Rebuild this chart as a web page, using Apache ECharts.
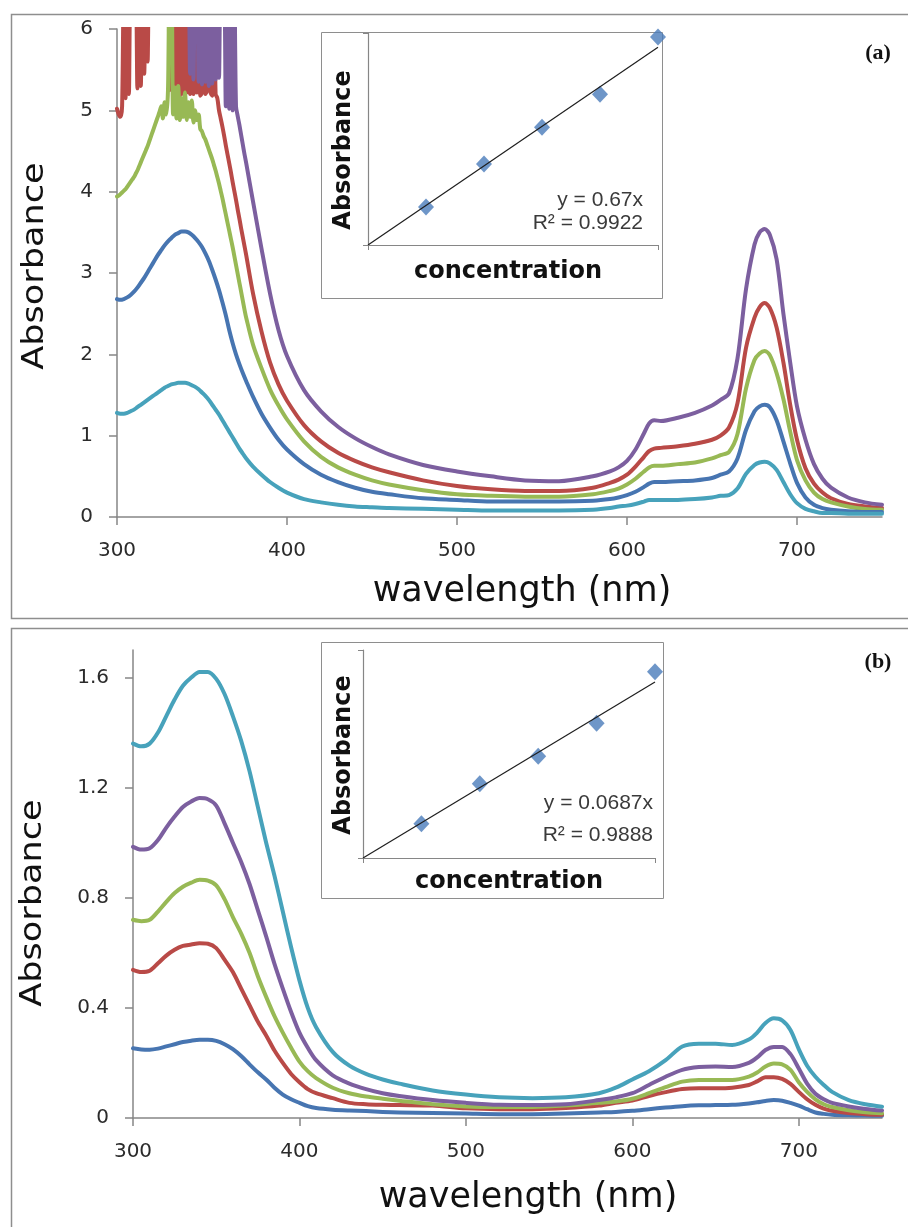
<!DOCTYPE html>
<html><head><meta charset="utf-8">
<script src="https://cdn.jsdelivr.net/npm/echarts@6/dist/echarts.min.js"></script>
<style>html,body{margin:0;padding:0;background:#fff}#c{width:908px;height:1227px}</style>
</head><body><div id="c"></div>
<script>
// ---------- Panel (a) ----------
// shared tail of the wavelength grid (380-750 nm)
const wlTailA = [380,385,390,395,400,410,420,430,440,450,460,480,500,520,540,560,580,590,595,600,605,610,613,616,620,630,640,650,655,660,665,670,675,678,681,684,688,692,696,700,705,710,715,720,730,740,750];
// smooth curves: 2 nm steps from 300 to 376 nm
const wlA = [300,302,304,306,308,310,312,314,316,318,320,322,324,326,328,330,332,334,336,338,340,342,344,346,348,350,352,354,356,358,360,362,364,366,368,370,372,374,376].concat(wlTailA);
// noisy (saturated) curves: 1 nm steps from 300 to 376 nm
const wlAn = [300,301,302,303,304,305,306,307,308,309,310,311,312,313,314,315,316,317,318,319,320,321,322,323,324,325,326,327,328,329,330,331,332,333,334,335,336,337,338,339,340,341,342,343,344,345,346,347,348,349,350,351,352,353,354,355,356,357,358,359,360,361,362,363,364,365,366,367,368,369,370,371,372,373,374,375,376].concat(wlTailA);

const aRed = [5.02,4.95,4.92,5.05, 6.6,5.15,6.6,5.2, 6.6,6.6,6.6,6.6, 5.27,6.6,5.30,6.6,5.45,6.6,5.60,6.6,
  6.6,6.6,6.6,6.6,6.6,6.6,6.6,6.6,6.6,6.6,6.6,
  5.25,6.6,5.20,6.6,5.22,6.6,5.18,6.6,5.20,6.6,5.22,6.6,5.20,
  6.6,5.20,6.6,5.22,6.6,5.18,5.22,6.6,5.20,5.25,6.6,5.22,5.18,6.6,5.20,5.15,
  5.00,4.90,4.80,4.69,4.57,4.46,4.35,4.24,4.12,4.01,3.90,3.78,3.67,3.55,3.44,3.33,3.22,
  2.75,2.28,1.90,1.63,1.43,1.13,0.93,0.79,0.69,0.61,0.55,0.45,0.38,0.34,0.32,0.32,0.36,0.42,0.46,0.52,0.62,0.74,0.81,0.84,0.85,0.87,0.90,0.95,1.00,1.10,1.40,2.08,2.45,2.58,2.63,2.57,2.33,1.90,1.38,0.95,0.60,0.41,0.30,0.23,0.16,0.13,0.11];
const aPurple = [6.6,6.6,6.6,6.6,6.6,6.6,6.6,6.6,6.6,6.6,6.6,6.6,6.6,6.6,6.6,6.6,6.6,6.6,6.6,6.6,6.6,6.6,6.6,6.6,6.6,6.6,6.6,6.6,6.6,6.6,6.6,6.6,6.6,6.6,6.6,6.6,6.6,6.6,6.6,6.6,6.6,6.6,6.6,
  5.45,6.6,5.38,6.6,6.6,5.35,6.6,5.32,6.6,5.35,6.6,5.30,6.6,5.33,6.6,5.38,6.6,5.40,
  6.6,6.6,6.6,
  5.05,6.6,5.02,6.6,5.00,6.6,5.05,
  4.93,4.82,4.70,4.58,4.46,4.35,
  3.88,3.30,2.75,2.30,1.98,1.56,1.30,1.11,0.97,0.86,0.77,0.64,0.56,0.50,0.45,0.44,0.50,0.56,0.61,0.69,0.83,1.03,1.15,1.19,1.18,1.22,1.28,1.37,1.44,1.52,1.95,2.80,3.35,3.50,3.54,3.47,3.17,2.50,1.90,1.36,0.95,0.65,0.47,0.36,0.24,0.18,0.15];
const aGreen = [3.94,3.95,3.97,3.99,4.01,4.03,4.06,4.09,4.12,4.15,4.18,4.22,4.26,4.31,4.36,4.41,4.46,4.51,4.56,4.62,4.68,4.74,4.80,4.86,4.92,4.98,5.05,
  4.90,5.10,4.95,5.25,6.6,6.6,4.95,5.28,4.90,5.30,4.88,5.15,4.92,5.22,4.88,5.10,4.92,5.12,4.85,5.0,4.88,4.95,4.77,
  4.74,4.68,4.64,4.58,4.52,4.46,4.40,4.33,4.26,4.18,4.10,4.01,3.92,3.82,3.72,3.62,3.52,3.42,3.32,3.21,3.10,2.99,2.88,2.77,2.66,2.55,2.45,
  2.12,1.83,1.57,1.37,1.20,0.93,0.74,0.61,0.52,0.45,0.40,0.33,0.28,0.26,0.25,0.25,0.28,0.32,0.35,0.40,0.47,0.56,0.61,0.63,0.63,0.65,0.67,0.72,0.76,0.80,1.02,1.58,1.93,2.01,2.04,1.99,1.77,1.45,1.05,0.70,0.45,0.30,0.22,0.18,0.13,0.10,0.09];
const aBlue = [2.68,2.67,2.68,2.70,2.73,2.77,2.82,2.88,2.94,3.01,3.08,3.15,3.22,3.28,3.34,3.39,3.43,3.47,3.49,3.51,3.51,3.50,3.47,3.43,3.38,3.32,3.24,3.15,3.04,2.92,2.79,2.64,2.48,2.30,2.14,2.00,1.88,1.77,1.67,
  1.48,1.27,1.10,0.95,0.83,0.65,0.52,0.43,0.36,0.31,0.28,0.23,0.21,0.19,0.19,0.19,0.20,0.22,0.24,0.27,0.31,0.37,0.41,0.43,0.43,0.44,0.45,0.48,0.52,0.56,0.72,1.07,1.30,1.36,1.38,1.35,1.19,0.93,0.66,0.42,0.24,0.15,0.11,0.09,0.07,0.06,0.06];
const aCyan = [1.28,1.27,1.27,1.28,1.30,1.32,1.35,1.38,1.41,1.44,1.47,1.50,1.53,1.56,1.59,1.61,1.63,1.64,1.65,1.65,1.65,1.64,1.62,1.60,1.57,1.53,1.49,1.44,1.38,1.32,1.26,1.19,1.12,1.05,0.98,0.91,0.84,0.78,0.72,
  0.62,0.52,0.43,0.36,0.30,0.22,0.18,0.15,0.13,0.12,0.11,0.10,0.09,0.08,0.08,0.08,0.09,0.11,0.13,0.14,0.16,0.19,0.21,0.21,0.21,0.21,0.22,0.24,0.26,0.27,0.35,0.53,0.64,0.67,0.68,0.66,0.58,0.43,0.28,0.17,0.10,0.07,0.05,0.05,0.04,0.04,0.04];
const concA = [1,2,3,4,5];
const insetA = [0.645,1.375,2.0,2.56,3.53];
const trendAx = [0,5];
const trendAy = [0,3.36];

// ---------- Panel (b) ----------
const wlB = [300,305,310,315,320,325,330,335,340,345,350,355,360,365,370,375,380,385,390,395,400,405,410,420,430,440,450,460,480,500,520,540,560,580,590,600,610,620,630,640,650,660,670,675,680,685,690,695,700,705,710,715,720,730,740,750];
const bBlue = [0.253,0.249,0.248,0.252,0.26,0.268,0.276,0.281,0.284,0.284,0.28,0.268,0.25,0.225,0.195,0.166,0.14,0.11,0.085,0.068,0.055,0.043,0.036,0.03,0.027,0.025,0.022,0.02,0.018,0.016,0.014,0.014,0.016,0.02,0.022,0.026,0.032,0.038,0.043,0.046,0.047,0.048,0.053,0.057,0.062,0.065,0.063,0.055,0.045,0.032,0.02,0.015,0.012,0.01,0.009,0.008];
const bRed = [0.538,0.53,0.535,0.562,0.59,0.611,0.625,0.63,0.635,0.633,0.617,0.575,0.53,0.47,0.41,0.35,0.30,0.245,0.20,0.16,0.13,0.105,0.09,0.072,0.055,0.05,0.048,0.047,0.045,0.035,0.032,0.032,0.036,0.045,0.055,0.063,0.08,0.094,0.105,0.108,0.108,0.110,0.12,0.133,0.148,0.148,0.142,0.124,0.095,0.068,0.048,0.034,0.026,0.018,0.014,0.012];
const bGreen = [0.72,0.715,0.72,0.75,0.785,0.817,0.84,0.855,0.865,0.862,0.845,0.795,0.73,0.67,0.60,0.515,0.44,0.37,0.31,0.255,0.205,0.17,0.145,0.11,0.09,0.078,0.07,0.063,0.05,0.042,0.04,0.04,0.045,0.055,0.06,0.07,0.09,0.112,0.132,0.138,0.138,0.138,0.15,0.165,0.187,0.198,0.195,0.175,0.13,0.095,0.068,0.05,0.04,0.028,0.021,0.017];
const bPurple = [0.985,0.975,0.98,1.01,1.055,1.095,1.13,1.15,1.162,1.158,1.135,1.07,1.00,0.93,0.85,0.755,0.66,0.56,0.47,0.385,0.31,0.255,0.21,0.155,0.125,0.105,0.09,0.08,0.065,0.055,0.048,0.047,0.05,0.065,0.075,0.09,0.12,0.15,0.175,0.185,0.187,0.185,0.20,0.22,0.247,0.258,0.258,0.232,0.18,0.125,0.088,0.068,0.055,0.042,0.033,0.027];
const bTeal = [1.36,1.35,1.36,1.40,1.46,1.52,1.57,1.60,1.62,1.62,1.595,1.54,1.46,1.37,1.26,1.13,1.00,0.88,0.75,0.62,0.50,0.40,0.33,0.24,0.19,0.16,0.14,0.125,0.10,0.085,0.075,0.072,0.075,0.09,0.11,0.14,0.17,0.21,0.26,0.27,0.27,0.265,0.285,0.31,0.345,0.362,0.355,0.32,0.25,0.19,0.15,0.12,0.095,0.065,0.05,0.041];
const concB = [1,2,3,4,5];
const insetB = [0.30,0.65,0.89,1.18,1.63];
const trendBx = [0,5];
const trendBy = [0,1.54];

// tick labels
const ticksX = [300,400,500,600,700];
const ticksYA = [0,1,2,3,4,5,6];
const ticksYB = [0,0.4,0.8,1.2,1.6];

const C = {blue:'#4775b1', red:'#b94a47', green:'#98b955', purple:'#7c5f9f', teal:'#47a2bb'};
const AX = '#868686';
const pairs = (xs, ys) => xs.map((x, i) => [x, ys[i]]);

function mainX(g, ticks){
  return {gridIndex:g, type:'value', min:300, max:750, interval:100,
    axisLine:{lineStyle:{color:AX, width:1.5}},
    axisTick:{show:true, length:8, customValues:ticks, lineStyle:{color:AX, width:1.5}},
    axisLabel:{customValues:ticks, fontFamily:'DejaVu Sans', fontSize:20, color:'#2b2b2b', margin:24},
    splitLine:{show:false}};
}
function mainY(g, max, interval, ticks){
  return {gridIndex:g, type:'value', min:0, max:max, interval:interval,
    axisLine:{show:true, lineStyle:{color:AX, width:1.5}},
    axisTick:{show:true, length:8, customValues:ticks, lineStyle:{color:AX, width:1.5}},
    axisLabel:{customValues:ticks, fontFamily:'DejaVu Sans', fontSize:20, color:'#2b2b2b', margin:24},
    splitLine:{show:false}};
}
function insetX(g){
  return {gridIndex:g, type:'value', min:0, max:5, interval:5,
    axisLine:{lineStyle:{color:AX, width:1.2}},
    axisTick:{show:true, length:5, lineStyle:{color:AX}},
    axisLabel:{show:false}, splitLine:{show:false}};
}
function insetY(g, max){
  return {gridIndex:g, type:'value', min:0, max:max, interval:max,
    axisLine:{show:true, lineStyle:{color:AX, width:1.2}},
    axisTick:{show:true, length:5, lineStyle:{color:AX}},
    axisLabel:{show:false}, splitLine:{show:false}};
}
function curve(name, g, xs, ys, color){
  return {name, type:'line', xAxisIndex:g, yAxisIndex:g, data:pairs(xs, ys),
    showSymbol:false, smooth:0.3, clip:true,
    lineStyle:{color, width:4, cap:'round', join:'round'}, itemStyle:{color}};
}
function inset(g, xs, ys, tx, ty){
  return [
    {type:'scatter', xAxisIndex:g, yAxisIndex:g, data:pairs(xs, ys), symbol:'diamond', symbolSize:[16,17],
      itemStyle:{color:'#4a7cba'}, z:3},
    {type:'line', xAxisIndex:g, yAxisIndex:g, data:pairs(tx, ty), showSymbol:false,
      lineStyle:{color:'#1e1e1e', width:1.2}, z:4}
  ];
}
function txt(x, y, text, font, fill, extra){
  return Object.assign({type:'text', x, y, z:10,
    style:{text, font, fill, align:'center', verticalAlign:'middle', textAlign:'center', textVerticalAlign:'middle'}}, extra || {});
}
function rtxt(x, y, text, font, fill){
  return {type:'text', x, y, z:10,
    style:{text, font, fill, align:'right', verticalAlign:'middle', textAlign:'right', textVerticalAlign:'middle'}};
}

const chart = echarts.init(document.getElementById('c'), null, {renderer:'canvas'});
chart.setOption({
  animation:false,
  backgroundColor:'#ffffff',
  grid:[
    {left:117, top:29, width:765, height:488},
    {left:368, top:33, width:290, height:212},
    {left:133, top:650, width:749, height:468},
    {left:363, top:650, width:292, height:208}
  ],
  xAxis:[mainX(0, ticksX), insetX(1), mainX(2, ticksX), insetX(3)],
  yAxis:[mainY(0, 6, 1, ticksYA), insetY(1, 3.6), mainY(2, 1.7, 0.4, ticksYB), insetY(3, 1.82)],
  series:[
    curve('a4', 0, wlAn, aRed, C.red),
    curve('a5', 0, wlAn, aPurple, C.purple),
    curve('a3', 0, wlAn, aGreen, C.green),
    curve('a2', 0, wlA, aBlue, C.blue),
    curve('a1', 0, wlA, aCyan, C.teal),
    ...inset(1, concA, insetA, trendAx, trendAy),
    curve('b1', 2, wlB, bBlue, C.blue),
    curve('b2', 2, wlB, bRed, C.red),
    curve('b3', 2, wlB, bGreen, C.green),
    curve('b4', 2, wlB, bPurple, C.purple),
    curve('b5', 2, wlB, bTeal, C.teal),
    ...inset(3, concB, insetB, trendBx, trendBy)
  ],
  graphic:{elements:[
    {type:'rect', z:-5, shape:{x:11.5, y:14.5, width:905, height:604}, style:{fill:'none', stroke:'#8e8e8e', lineWidth:1.5}},
    {type:'rect', z:-5, shape:{x:11.5, y:628.5, width:905, height:610}, style:{fill:'none', stroke:'#8e8e8e', lineWidth:1.5}},
    {type:'rect', z:-4, shape:{x:321.5, y:32.5, width:341, height:266}, style:{fill:'#ffffff', stroke:'#8e8e8e', lineWidth:1}},
    {type:'rect', z:-4, shape:{x:321.5, y:642.5, width:342, height:256}, style:{fill:'#ffffff', stroke:'#8e8e8e', lineWidth:1}},
    txt(35, 266, 'Absorbance', '30px "DejaVu Sans"', '#111', {rotation:Math.PI/2, scaleX:1.17}),
    txt(522, 592, 'wavelength (nm)', '35px "DejaVu Sans"', '#111'),
    txt(33, 903, 'Absorbance', '30px "DejaVu Sans"', '#111', {rotation:Math.PI/2, scaleX:1.17}),
    txt(528, 1198, 'wavelength (nm)', '35px "DejaVu Sans"', '#111'),
    txt(344, 150, 'Absorbance', 'bold 24px "DejaVu Sans"', '#111', {rotation:Math.PI/2}),
    txt(508, 272, 'concentration', 'bold 24px "DejaVu Sans"', '#111'),
    txt(344, 755, 'Absorbance', 'bold 24px "DejaVu Sans"', '#111', {rotation:Math.PI/2}),
    txt(509, 882, 'concentration', 'bold 24px "DejaVu Sans"', '#111'),
    rtxt(643, 200, 'y = 0.67x', '21px "Liberation Sans"', '#3a3a3a'),
    rtxt(643, 223, 'R\u00b2 = 0.9922', '21px "Liberation Sans"', '#3a3a3a'),
    rtxt(653, 803, 'y = 0.0687x', '21px "Liberation Sans"', '#3a3a3a'),
    rtxt(653, 835, 'R\u00b2 = 0.9888', '21px "Liberation Sans"', '#3a3a3a'),
    txt(878, 53, '(a)', 'bold 22px "Liberation Serif"', '#111'),
    txt(878, 662, '(b)', 'bold 22px "Liberation Serif"', '#111')
  ]}
});
</script>
</body></html>
